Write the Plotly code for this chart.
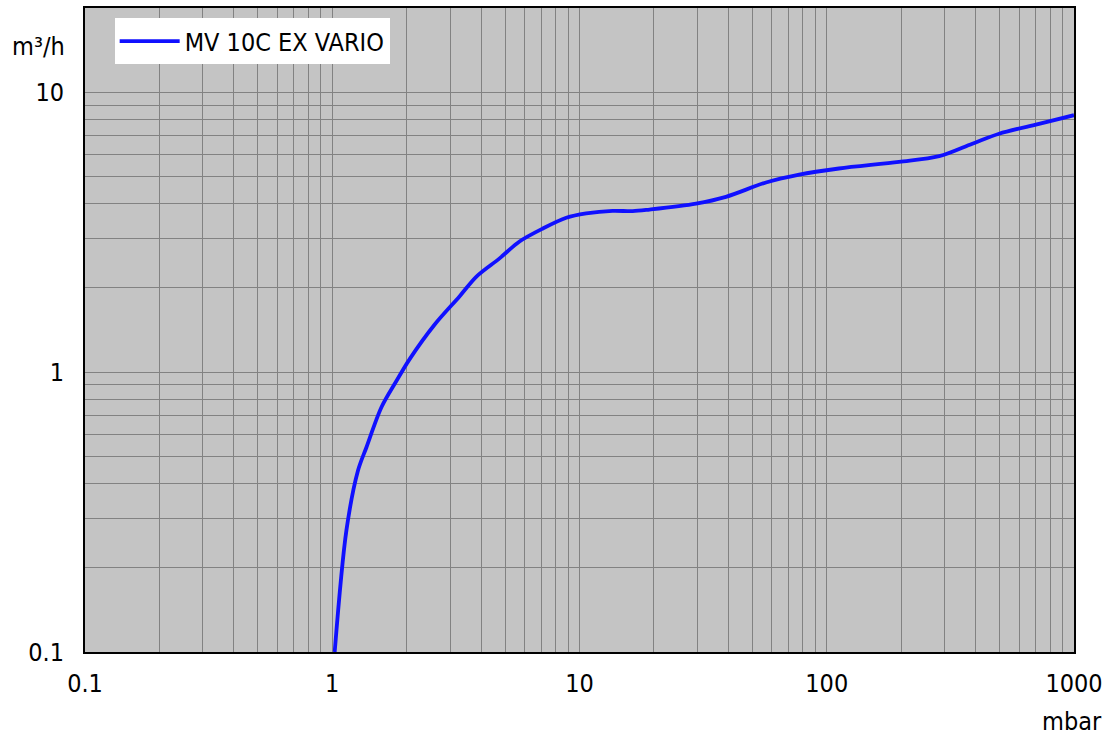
import plotly.graph_objects as go

pressure = [1.023, 1.141, 1.271, 1.374, 1.581, 1.817, 2.056, 2.596, 3.27, 3.83, 4.75, 5.72, 7.11, 8.84,
            10.64, 13.6, 16.4, 19.2, 29.6, 39.1, 56.8, 77.4, 112, 196, 285, 388, 498, 722, 1000]
speed = [0.1, 0.272, 0.445, 0.538, 0.749, 0.929, 1.113, 1.48, 1.864, 2.196, 2.55, 2.93, 3.26, 3.56,
         3.69, 3.77, 3.76, 3.81, 4.0, 4.23, 4.76, 5.08, 5.34, 5.64, 5.91, 6.55, 7.11, 7.71, 8.28]

series_name = "MV 10C EX VARIO"
x_labels = {0.1: "0.1", 1: "1", 10: "10", 100: "100", 1000: "1000"}
y_labels = {0.1: "0.1", 1: "1", 10: "10"}

x_grid = [round(m * 10 ** e, 6) for e in range(-1, 3) for m in range(1, 10)] + [1000]
y_grid = [round(m * 10 ** e, 6) for e in range(-1, 1) for m in range(1, 10)] + [10]

font = "DejaVu Sans Condensed, Liberation Sans, sans-serif"
fsize = 25

fig = go.Figure()
fig.add_trace(go.Scatter(x=pressure, y=speed, mode="lines", name=series_name,
                         line=dict(color="#1010ff", width=3.8, shape="spline", smoothing=0.9)))

fig.update_layout(
    width=1109, height=737,
    margin=dict(l=85, r=34, t=6, b=85),
    paper_bgcolor="white", plot_bgcolor="#c4c4c4",
    font=dict(family=font, size=fsize, color="black"),
    showlegend=True,
    legend=dict(x=0.03, y=0.984, xanchor="left", yanchor="top", bgcolor="white",
                itemwidth=60, tracegroupgap=0,
                font=dict(family=font, size=fsize, color="black"), borderwidth=0),
)
fig.update_xaxes(type="log", range=[-1, 3], tickvals=x_grid,
                 ticktext=[x_labels.get(v, "") for v in x_grid],
                 showgrid=True, gridcolor="#828282", gridwidth=1,
                 showline=True, linecolor="black", linewidth=2, mirror=True,
                 ticks="", ticklabelstandoff=8, zeroline=False)
fig.update_yaxes(type="log", range=[-1, 1.30103], tickvals=y_grid,
                 ticktext=[y_labels.get(v, "") for v in y_grid],
                 showgrid=True, gridcolor="#828282", gridwidth=1,
                 showline=True, linecolor="black", linewidth=2, mirror=True,
                 ticks="", ticklabelstandoff=14, zeroline=False)

fig.add_annotation(text="m³/h", xref="paper", yref="paper", x=-0.018, y=(652 - 45) / 646,
                   xanchor="right", yanchor="middle", showarrow=False,
                   font=dict(family=font, size=fsize, color="black"))
fig.add_annotation(text="mbar", xref="paper", yref="paper", x=(1073 - 85) / 990, y=-(722 - 652) / 646,
                   xanchor="center", yanchor="middle", showarrow=False,
                   font=dict(family=font, size=fsize, color="black"))

fig.write_html("out.html", config={"displayModeBar": False},
               post_script="document.body.style.margin='0';document.body.style.overflow='hidden';")
